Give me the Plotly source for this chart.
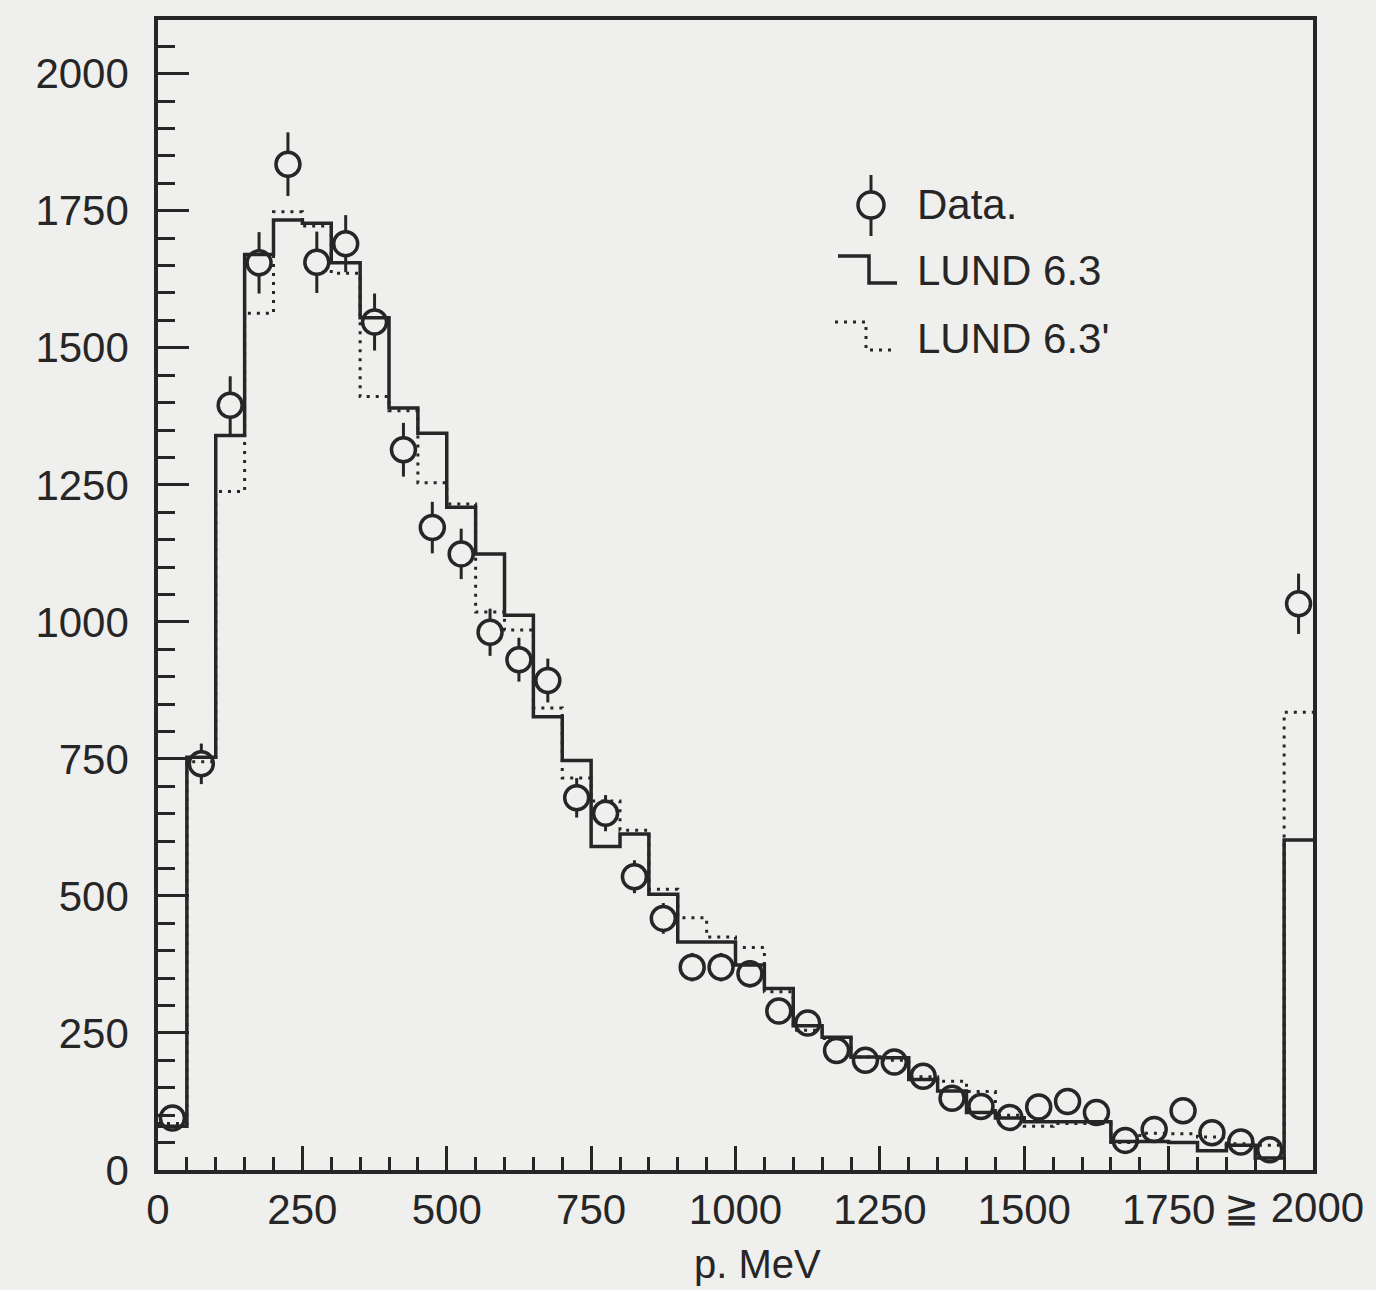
import plotly.graph_objects as go

# ---------------- data ----------------
bin_edges = [0, 50, 100, 150, 200, 250, 300, 350, 400, 450, 500, 550, 600, 650, 700,
             750, 800, 850, 900, 950, 1000, 1050, 1100, 1150, 1200, 1250, 1300, 1350,
             1400, 1450, 1500, 1550, 1600, 1650, 1700, 1750, 1800, 1850, 1900, 1950, 2000]
bin_centers = [25, 75, 125, 175, 225, 275, 325, 375, 425, 475, 525, 575, 625, 675, 725,
               775, 825, 875, 925, 975, 1025, 1075, 1125, 1175, 1225, 1275, 1325, 1375,
               1425, 1475, 1525, 1575, 1625, 1675, 1725, 1775, 1825, 1875, 1925, 1975]

data_counts = [95, 741, 1395, 1655, 1835, 1656, 1690, 1547, 1314, 1172, 1124, 981, 931, 893,
               679, 651, 535, 459, 370, 370, 358, 290, 268, 218, 200, 197, 171, 131, 116,
               96, 115, 125, 105, 54, 74, 108, 68, 51, 37, 1033]
data_err = [15, 37, 53, 56, 58, 56, 52, 52, 49, 47, 46, 43, 40, 40, 36, 33, 30, 28, 26, 26,
            25, 23, 22, 20, 19, 19, 18, 15, 14, 13, 14, 15, 13, 10, 11, 14, 11, 9, 8, 55]

lund63 = [80, 753, 1340, 1670, 1733, 1727, 1655, 1555, 1390, 1344, 1209, 1124, 1012, 827,
          747, 590, 613, 503, 416, 416, 374, 331, 263, 242, 206, 205, 165, 144, 105, 95,
          88, 88, 88, 52, 52, 50, 35, 45, 22, 602]
lund63p = [85, 745, 1238, 1563, 1748, 1722, 1636, 1411, 1385, 1254, 1215, 1018, 985, 843,
           715, 673, 620, 512, 460, 425, 406, 325, 255, 240, 206, 200, 170, 162, 143, 100,
           80, 85, 85, 50, 67, 66, 60, 48, 45, 835]

x_tick_vals = [0, 250, 500, 750, 1000, 1250, 1500, 1750, 2000]
x_tick_text = ["0", "250", "500", "750", "1000", "1250", "1500", "1750", ""]
y_tick_vals = [0, 250, 500, 750, 1000, 1250, 1500, 1750, 2000]
y_tick_text = ["0", "250", "500", "750", "1000", "1250", "1500", "1750", "2000"]

legend_labels = ["Data.", "LUND 6.3", "LUND 6.3'"]
overflow_label = "≧ 2000"
x_title = "p. MeV"

# ---------------- style ----------------
INK = "#262626"
PAPER = "#efefed"
FONT = "Liberation Sans"
W, H = 1376, 1290
ML, MR, MT, MB = 158, 63, 20, 120
PW, PH = W - ML - MR, H - MT - MB


def px(p):  # pixel x -> paper x
    return (p - ML) / PW


def py(p):  # pixel y -> paper y
    return (MT + PH - p) / PH


fig = go.Figure()

# filled background discs with error bars (hide the bar inside the circle)
fig.add_trace(go.Scatter(
    x=bin_centers, y=data_counts, mode="markers",
    marker=dict(symbol="circle", size=25, color=PAPER, line=dict(width=0)),
    error_y=dict(type="data", array=data_err, visible=True, color=INK, thickness=3, width=0),
    showlegend=False, hoverinfo="skip"))

# LUND 6.3 (solid step histogram)
fig.add_trace(go.Scatter(
    x=bin_edges, y=lund63 + [lund63[-1]], mode="lines", line_shape="hv",
    line=dict(color=INK, width=3.5), showlegend=False, name=legend_labels[1]))

# LUND 6.3' (dotted step histogram)
fig.add_trace(go.Scatter(
    x=bin_edges, y=lund63p + [lund63p[-1]], mode="lines", line_shape="hv",
    line=dict(color=INK, width=3, dash="3px,6px"), showlegend=False, name=legend_labels[2]))

# data open circles
fig.add_trace(go.Scatter(
    x=bin_centers, y=data_counts, mode="markers",
    marker=dict(symbol="circle-open", size=24, color=INK, line=dict(width=3.5, color=INK)),
    showlegend=False, name=legend_labels[0]))

axis_common = dict(
    showgrid=False, zeroline=False, showline=True, linecolor=INK, linewidth=3.5,
    mirror=True, ticks="inside", tickcolor=INK, tickwidth=3,
    tickfont=dict(family=FONT, size=42, color=INK),
)

fig.update_xaxes(
    **axis_common, range=[0, 2000], tickmode="array", tickvals=x_tick_vals,
    ticktext=x_tick_text, ticklen=24, ticklabelstandoff=0,
    minor=dict(dtick=50, tick0=0, ticks="inside", ticklen=13, tickwidth=3, tickcolor=INK),
)
fig.update_yaxes(
    **axis_common, range=[0, 2098], tickmode="array", tickvals=y_tick_vals,
    ticktext=y_tick_text, ticklen=31, ticklabelstandoff=17,
    minor=dict(dtick=50, tick0=0, ticks="inside", ticklen=17, tickwidth=3, tickcolor=INK),
)

shapes = []
# legend glyph: data point with error bar
shapes.append(dict(type="circle", xref="paper", yref="paper",
                   x0=px(858), x1=px(884), y0=py(218), y1=py(192),
                   line=dict(color=INK, width=3.5)))
shapes.append(dict(type="line", xref="paper", yref="paper",
                   x0=px(871), x1=px(871), y0=py(175), y1=py(192),
                   line=dict(color=INK, width=3)))
shapes.append(dict(type="line", xref="paper", yref="paper",
                   x0=px(871), x1=px(871), y0=py(218), y1=py(236),
                   line=dict(color=INK, width=3)))
# legend glyph: solid step
shapes.append(dict(type="path", xref="paper", yref="paper",
                   path=f"M {px(838)},{py(256)} L {px(869)},{py(256)} L {px(869)},{py(283)} L {px(897)},{py(283)}",
                   line=dict(color=INK, width=3.5)))
# legend glyph: dotted step
shapes.append(dict(type="path", xref="paper", yref="paper",
                   path=f"M {px(835)},{py(322)} L {px(866)},{py(322)} L {px(866)},{py(350)} L {px(897)},{py(350)}",
                   line=dict(color=INK, width=3, dash="3px,6px")))

annotations = []
for label, ypix in zip(legend_labels, [205, 270, 338]):
    annotations.append(dict(text=label, xref="paper", yref="paper", x=px(915), y=py(ypix),
                            xanchor="left", yanchor="middle", showarrow=False,
                            font=dict(family=FONT, size=42, color=INK)))
annotations.append(dict(text=overflow_label, xref="paper", yref="paper", x=px(1222), y=py(1207),
                        xanchor="left", yanchor="middle", showarrow=False,
                        font=dict(family=FONT, size=42, color=INK)))
annotations.append(dict(text=x_title, xref="paper", yref="paper", x=px(757), y=py(1264),
                        xanchor="center", yanchor="middle", showarrow=False,
                        font=dict(family=FONT, size=40, color=INK)))

fig.update_layout(
    width=W, height=H, margin=dict(l=ML, r=MR, t=MT, b=MB),
    paper_bgcolor=PAPER, plot_bgcolor=PAPER,
    shapes=shapes, annotations=annotations, showlegend=False,
)

fig.write_html(
    "out.html",
    config={"displayModeBar": False},
    post_script=f"document.body.style.margin='0';document.body.style.background='{PAPER}';",
)
